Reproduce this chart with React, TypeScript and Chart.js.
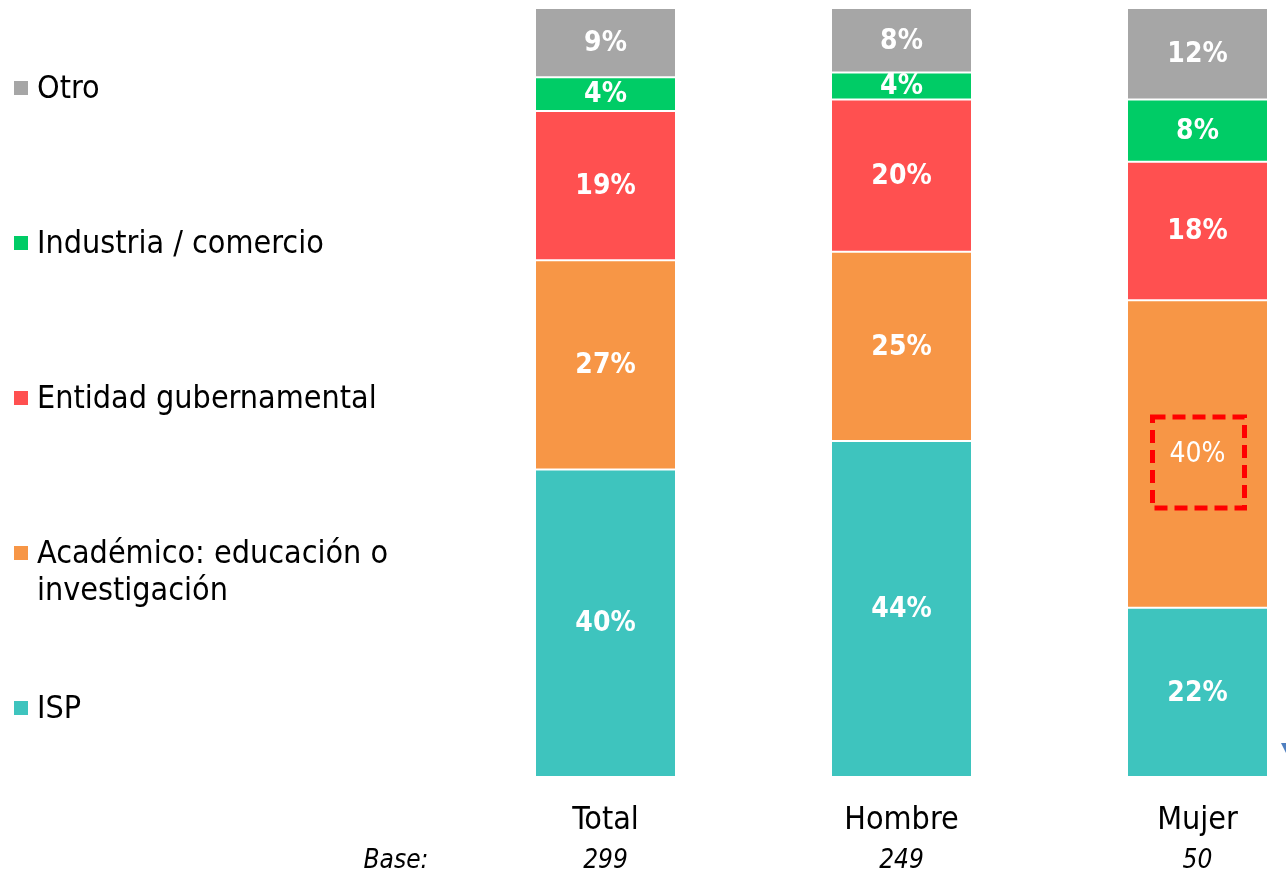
import React, { useEffect, useRef } from "react";
import { Chart, registerables } from "chart.js";

Chart.register(...registerables);

const categories = ["Total", "Hombre", "Mujer"];
const baseCounts = ["299", "249", "50"];
const baseLabel = "Base:";

const seriesNames = ["ISP", "Académico: educación o investigación", "Entidad gubernamental", "Industria / comercio", "Otro"];
const legendLines = [["ISP"], ["Académico: educación o", "investigación"], ["Entidad gubernamental"], ["Industria / comercio"], ["Otro"]];
const seriesColors = ["#3EC4BE", "#F79646", "#FF5050", "#00CC66", "#A6A6A6"];

const ispValues = [40.0, 43.7, 22.0];
const academicoValues = [27.2, 24.6, 40.0];
const entidadValues = [19.4, 19.8, 18.0];
const industriaValues = [4.4, 3.5, 8.1];
const otroValues = [9.0, 8.4, 11.9];

const FONT = "'DejaVu Sans Condensed', 'DejaVu Sans', sans-serif";

const overlayPlugin = {
  id: "overlay",
  afterDatasetsDraw(chart: any) {
    const ctx = chart.ctx;
    const xScale = chart.scales.x;
    ctx.save();
    // segment labels
    chart.data.datasets.forEach((ds: any, di: number) => {
      const meta = chart.getDatasetMeta(di);
      meta.data.forEach((el: any, i: number) => {
        const v = ds.data[i];
        const cy = (el.y + el.base) / 2;
        const regular = di === 1 && i === 2;
        ctx.font = `${regular ? "normal" : "bold"} 28px ${FONT}`;
        ctx.fillStyle = "#FFFFFF";
        ctx.textAlign = "center";
        ctx.textBaseline = "middle";
        ctx.fillText(Math.round(v) + "%", el.x, cy + 1);
        if (regular) {
          ctx.save();
          ctx.strokeStyle = "#FF0000";
          ctx.lineWidth = 5;
          ctx.setLineDash([13, 7]);
          ctx.strokeRect(el.x - 45, cy - 37, 92, 91);
          ctx.restore();
        }
      });
    });
    // category labels and bases
    categories.forEach((c, i) => {
      const x = xScale.getPixelForValue(i);
      ctx.fillStyle = "#000000";
      ctx.textAlign = "center";
      ctx.textBaseline = "alphabetic";
      ctx.font = `normal 32px ${FONT}`;
      ctx.fillText(c, x, 829);
      ctx.font = `italic 26px ${FONT}`;
      ctx.fillText(baseCounts[i], x, 868);
    });
    ctx.font = `italic 26px ${FONT}`;
    ctx.textAlign = "center";
    ctx.fillText(baseLabel, 396, 868);
    // legend
    const order = [4, 3, 2, 1, 0];
    order.forEach((di, k) => {
      const baseline = 98 + k * 155;
      ctx.fillStyle = seriesColors[di];
      ctx.fillRect(14, baseline - 17, 14, 14);
      ctx.fillStyle = "#000000";
      ctx.font = `normal 32px ${FONT}`;
      ctx.textAlign = "left";
      ctx.textBaseline = "alphabetic";
      legendLines[di].forEach((line, li) => {
        ctx.fillText(line, 37, baseline + li * 37);
      });
    });
    // small blue marker at right edge
    ctx.fillStyle = "#4F7FC0";
    ctx.beginPath();
    ctx.moveTo(1281, 743);
    ctx.lineTo(1296, 743);
    ctx.lineTo(1288, 757);
    ctx.closePath();
    ctx.fill();
    ctx.restore();
  },
};

export default function App() {
  const ref = useRef<HTMLCanvasElement | null>(null);
  useEffect(() => {
    if (!ref.current) return;
    const values = [ispValues, academicoValues, entidadValues, industriaValues, otroValues];
    const chart = new Chart(ref.current, {
      type: "bar",
      data: {
        labels: categories,
        datasets: values.map((d, i) => ({
          label: seriesNames[i],
          data: d,
          backgroundColor: seriesColors[i],
          borderColor: "#FFFFFF",
          borderWidth: { top: 1, bottom: 1, left: 0, right: 0 },
          borderSkipped: false,
          barPercentage: 0.4696,
          categoryPercentage: 1,
        })),
      },
      options: {
        responsive: false,
        animation: false,
        devicePixelRatio: 1,
        layout: { padding: { left: 457.5, right: 54.5, top: 8, bottom: 95 } },
        plugins: { legend: { display: false }, tooltip: { enabled: false } },
        scales: {
          x: { stacked: true, display: false },
          y: { stacked: true, display: false, min: 0, max: 100 },
        },
      },
      plugins: [overlayPlugin],
    });
    return () => chart.destroy();
  }, []);
  return (
    <div style={{ position: "fixed", left: 0, top: 0, width: 1286, height: 872, overflow: "hidden", background: "#fff" }}>
      <canvas ref={ref} width={1400} height={872} style={{ display: "block" }} />
    </div>
  );
}
